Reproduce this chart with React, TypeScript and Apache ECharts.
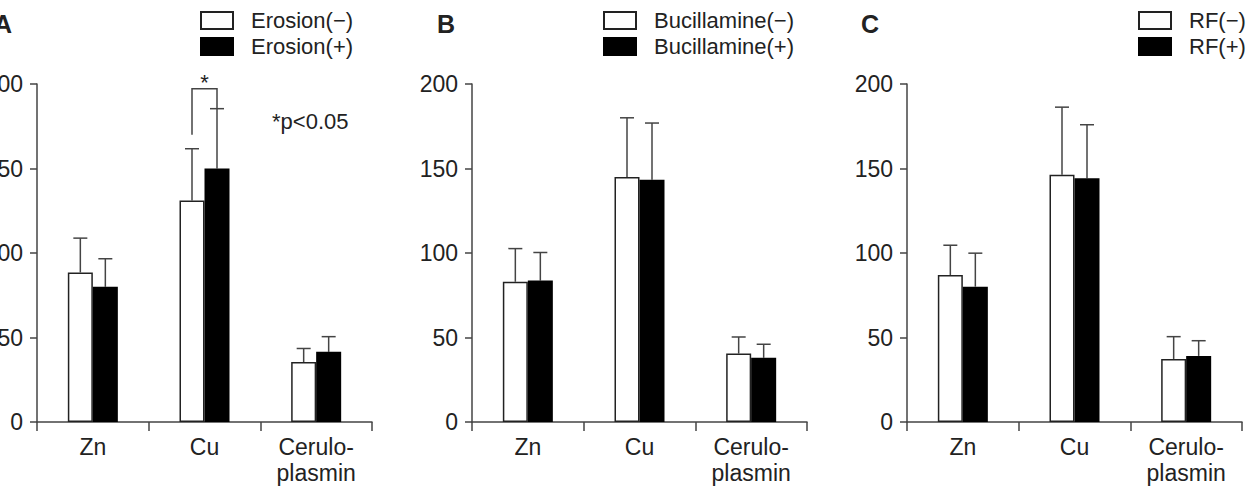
import React, { useEffect, useRef } from 'react';
import * as echarts from 'echarts';

const categories = ['Zn', 'Cu', 'Cerulo-\nplasmin'];
const yMin = 0;
const yMax = 200;
const yStep = 50;

const panelLabels = ['A', 'B', 'C'];

const legendA = ['Erosion(−)', 'Erosion(+)'];
const meanA_neg = [88.5, 131, 35.5];
const sdA_neg = [20.3, 30.7, 8];
const meanA_pos = [80, 150, 41.5];
const sdA_pos = [16.6, 35.4, 9];

const legendB = ['Bucillamine(−)', 'Bucillamine(+)'];
const meanB_neg = [83, 145, 40.5];
const sdB_neg = [19.6, 35, 9.8];
const meanB_pos = [83.7, 143.3, 38];
const sdB_pos = [16.6, 33.6, 8];

const legendC = ['RF(−)', 'RF(+)'];
const meanC_neg = [87, 146.3, 37.3];
const sdC_neg = [17.6, 40, 13.2];
const meanC_pos = [80.1, 144.3, 39.1];
const sdC_pos = [19.8, 31.6, 9];

// significance bracket in panel A: [category, left end, top, right end]
const sigBracketA = [1, 170, 197.2, 185.3];
const sigNote = '*p<0.05';

const FONT = '"Liberation Sans", Arial, Helvetica, sans-serif';
const INK = '#222';
const LINE = '#444';
const BAR_W = 25;

export default function App() {
  const ref = useRef<HTMLDivElement>(null);
  useEffect(() => {
    if (!ref.current) return;
    const chart = echarts.init(ref.current, null, { renderer: 'svg' });

    const panels = [
      { legend: legendA, neg: meanA_neg, negSd: sdA_neg, pos: meanA_pos, posSd: sdA_pos },
      { legend: legendB, neg: meanB_neg, negSd: sdB_neg, pos: meanB_pos, posSd: sdB_pos },
      { legend: legendC, neg: meanC_neg, negSd: sdC_neg, pos: meanC_pos, posSd: sdC_pos },
    ];
    const gridLefts = [37, 472, 907];
    const legendLefts = [200, 603, 1138];
    const titleLefts = [-6, 437, 861];

    const grid = gridLefts.map((l) => ({
      left: l,
      top: 84,
      width: 335,
      height: 338,
      containLabel: false,
      outerBoundsMode: 'none',
    }));

    const xAxis = gridLefts.map((_, i) => ({
      type: 'category',
      gridIndex: i,
      data: categories,
      axisLine: { lineStyle: { color: LINE, width: 1.5 } },
      axisTick: { show: true, length: 9, lineStyle: { color: LINE, width: 1.5 } },
      axisLabel: { fontSize: 23, color: INK, fontFamily: FONT, margin: 12, lineHeight: 26 },
    }));

    const yAxis = gridLefts.map((_, i) => ({
      type: 'value',
      gridIndex: i,
      min: yMin,
      max: yMax,
      interval: yStep,
      axisLine: { show: true, lineStyle: { color: LINE, width: 1.5 } },
      axisTick: { show: true, length: 7, lineStyle: { color: LINE, width: 1.5 } },
      axisLabel: { fontSize: 23, color: INK, fontFamily: FONT, margin: 14 },
      splitLine: { show: false },
    }));

    const errRender = (params: any, api: any) => {
      const cat = api.value(0);
      const mean = api.value(1);
      const top = api.value(2);
      const side = api.value(3);
      const base = api.coord([cat, mean]);
      const tp = api.coord([cat, top]);
      const x = base[0] + side * (BAR_W / 2);
      const st = { stroke: LINE, lineWidth: 1.5 };
      return {
        type: 'group',
        children: [
          { type: 'line', shape: { x1: x, y1: base[1], x2: x, y2: tp[1] }, style: st },
          { type: 'line', shape: { x1: x - 7, y1: tp[1], x2: x + 7, y2: tp[1] }, style: st },
        ],
      };
    };

    const series: any[] = [];
    const legends: any[] = [];
    panels.forEach((p, i) => {
      series.push({
        type: 'bar',
        name: p.legend[0],
        xAxisIndex: i,
        yAxisIndex: i,
        data: p.neg,
        barWidth: BAR_W,
        barGap: '0%',
        itemStyle: { color: '#fff', borderColor: INK, borderWidth: 1.5 },
        z: 2,
      });
      series.push({
        type: 'bar',
        name: p.legend[1],
        xAxisIndex: i,
        yAxisIndex: i,
        data: p.pos,
        barWidth: BAR_W,
        barGap: '0%',
        itemStyle: { color: '#000', borderColor: '#000', borderWidth: 1.5 },
        z: 2,
      });
      const errData: number[][] = [];
      p.neg.forEach((m, k) => errData.push([k, m, m + p.negSd[k], -1]));
      p.pos.forEach((m, k) => errData.push([k, m, m + p.posSd[k], 1]));
      series.push({
        type: 'custom',
        xAxisIndex: i,
        yAxisIndex: i,
        data: errData,
        encode: { x: 0, y: [1, 2] },
        renderItem: errRender,
        z: 1,
        silent: true,
      });
      legends.push({
        data: p.legend,
        orient: 'vertical',
        left: legendLefts[i],
        top: 9,
        padding: 0,
        itemWidth: 32,
        itemHeight: 17,
        itemGap: 3,
        icon: 'rect',
        textStyle: { fontSize: 22, color: INK, fontFamily: FONT, lineHeight: 23, padding: [0, 0, 0, 13] },
      });
    });

    series.push({
      type: 'custom',
      xAxisIndex: 0,
      yAxisIndex: 0,
      data: [sigBracketA],
      encode: { x: 0, y: [1, 2, 3] },
      z: 4,
      silent: true,
      renderItem: (params: any, api: any) => {
        const cat = api.value(0);
        const c0 = api.coord([cat, api.value(1)]);
        const c1 = api.coord([cat, api.value(2)]);
        const c2 = api.coord([cat, api.value(3)]);
        const xl = c0[0] - BAR_W / 2;
        const xr = c0[0] + BAR_W / 2;
        return {
          type: 'group',
          children: [
            {
              type: 'polyline',
              shape: { points: [[xl, c0[1]], [xl, c1[1]], [xr, c1[1]], [xr, c2[1]]] },
              style: { stroke: LINE, lineWidth: 1.5, fill: 'none' },
            },
            {
              type: 'text',
              style: { text: '*', x: c0[0], y: c1[1] - 17, align: 'center', verticalAlign: 'top', fontSize: 22, fontFamily: FONT, fill: INK },
            },
          ],
        };
      },
    });

    const graphic: any[] = panelLabels.map((t, i) => ({
      type: 'text',
      left: titleLefts[i],
      top: 11,
      style: { text: t, fontSize: 25, fontWeight: 'bold', fontFamily: FONT, fill: INK },
    }));
    graphic.push({
      type: 'text',
      left: 272,
      top: 110,
      style: { text: sigNote, fontSize: 22, fontFamily: FONT, fill: INK },
    });

    chart.setOption({
      animation: false,
      backgroundColor: '#fff',
      grid,
      xAxis,
      yAxis,
      legend: legends,
      series,
      graphic,
    });
    return () => chart.dispose();
  }, []);
  return (
    <div
      ref={ref}
      style={{ position: 'fixed', left: 0, top: 0, width: 1247, height: 489, background: '#fff' }}
    />
  );
}
